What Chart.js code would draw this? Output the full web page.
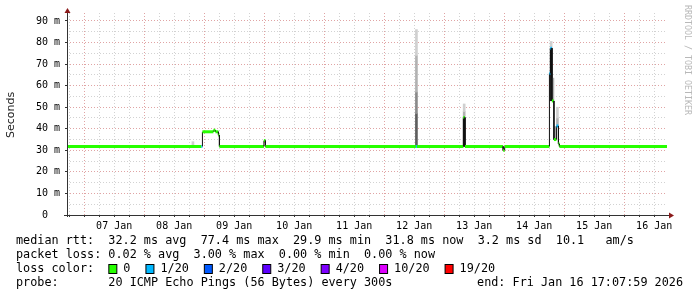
<!DOCTYPE html>
<html><head><meta charset="utf-8">
<script src="https://cdn.jsdelivr.net/npm/chart.js@4/dist/chart.umd.min.js"></script>
<style>html,body{margin:0;padding:0;background:#fff;overflow:hidden}canvas{display:block}</style>
</head><body>
<canvas id="c" width="697" height="297"></canvas>
<script>
// ---------- DATA (x = hours since 06 Jan 00:00) ----------
const startHour = 17.13;   // Tue Jan 06 17:08
const endHour = 257.13;    // Fri Jan 16 17:07:59
const yMax = 93.7;         // ms
const yTickValues = [0,5,10,15,20,25,30,35,40,45,50,55,60,65,70,75,80,85,90];
const yTickLabels = ['0  ','10 m','20 m','30 m','40 m','50 m','60 m','70 m','80 m','90 m'];
const xGridHours = [18,24,30,36,42,48,54,60,66,72,78,84,90,96,102,108,114,120,126,132,138,144,150,156,162,168,174,180,186,192,198,204,210,216,222,228,234,240,246,252];
const dayLabelHours = [36,60,84,108,132,156,180,204,228,252];
const dayLabels = ['07 Jan','08 Jan','09 Jan','10 Jan','11 Jan','12 Jan','13 Jan','14 Jan','15 Jan','16 Jan'];

// median rtt as runs: run i spans medBreaks[i]..medBreaks[i+1]
const medBreaks = [17.13,70.9,71.3,75.7,76.5,77.7,78.1,95.9,96.5,156.7,157.1,175.7,176.3,191.6,192.2,210.1,210.5,211.1,211.9,212.9,213.7,214.1,257.13];
const medValues = [31.8,31.8,38.6,39.3,38.6,37.0,31.8,34.5,31.8,31.8,31.8,45.2,31.8,30.0,31.8,65.7,77.4,52.9,35.0,41.3,33.0,31.8];
const medLoss   = [0,1,0,0,0,0,0,0,0,1,0,0,0,0,0,1,1,0,0,1,0,0];

// smoke (ping spread) as [hour, low ms, high ms], by density band
const smokeOuter  = [[67.5,32.0,34.0],[156.9,74,86],[176.0,48,51.5],[210.8,77.4,80.5],[213.3,45,50]];
const smokeMiddle = [[156.9,57,74],[176.0,45.2,48],[211.5,52.9,63.5],[212.4,35,41],[213.3,41.3,45]];
const smokeInner  = [[156.9,47,57]];
const smokeCore   = [[156.9,31.8,47]];
const smokeDense  = [[176.0,31.8,45.2],[210.8,53,77.4]];

// legend texts
const rttStats = ['32.2 ms avg','77.4 ms max','29.9 ms min','31.8 ms now','3.2 ms sd','10.1   am/s'];
const lossStats = ['0.02 % avg','3.00 % max','0.00 % min','0.00 % now'];
const lossLabels = ['0','1/20','2/20','3/20','4/20','10/20','19/20'];
const lossColors = ['#26ff00','#00b8ff','#0059ff','#5e00ff','#7e00ff','#dd00ff','#ff0000'];
const probeText = '20 ICMP Echo Pings (56 Bytes) every 300s';
const endText = 'end: Fri Jan 16 17:07:59 2026';
const lossIndexOfCount = {0:0,1:1,2:2,3:3,4:4,10:5,19:6};

// ---------- BUILD ----------
const medPoints = [];
medValues.forEach((v,i)=>{ medPoints.push({x:medBreaks[i],y:v}); medPoints.push({x:medBreaks[i+1],y:v}); });
const toBars = arr => arr.map(([h,lo,hi])=>({x:h,y:[lo,hi]}));

const MONO = '"DejaVu Sans Mono", monospace';
const majorGrid = '#e0a4a4', minorGrid = '#d2d2d2';

const extras = {
  id:'extras',
  afterDatasetsDraw(chart){
    const c = chart.ctx, a = chart.chartArea;
    c.save();
    c.strokeStyle = '#333'; c.lineWidth = 1;
    c.beginPath();
    c.moveTo(a.left+0.5, a.bottom+2); c.lineTo(a.left+0.5, a.top-1);
    c.moveTo(a.left-3, a.bottom+0.5); c.lineTo(a.right+2, a.bottom+0.5);
    c.stroke();
    c.fillStyle = '#8b1a1a';
    c.beginPath();
    c.moveTo(a.left+0.5, a.top-5); c.lineTo(a.left-2.5, a.top); c.lineTo(a.left+3.5, a.top); c.closePath(); c.fill();
    c.beginPath();
    c.moveTo(a.right+7, a.bottom+0.5); c.lineTo(a.right+2, a.bottom-2.5); c.lineTo(a.right+2, a.bottom+3.5); c.closePath(); c.fill();
    c.restore();
  },
  afterDraw(chart){
    const c = chart.ctx;
    c.save();
    // y title
    c.fillStyle = '#222';
    c.font = '11px "DejaVu Sans", sans-serif';
    c.textAlign = 'center'; c.textBaseline = 'middle';
    c.translate(11, 115); c.rotate(-Math.PI/2); c.fillText('Seconds', 0, 0);
    c.setTransform(1,0,0,1,0,0);
    // credit
    c.fillStyle = '#b8b8b8';
    c.font = '8.3px ' + MONO;
    c.translate(687.5, 60); c.rotate(Math.PI/2); c.fillText('RRDTOOL / TOBI OETIKER', 0, 0);
    c.setTransform(1,0,0,1,0,0);
    // legend
    c.fillStyle = '#000';
    c.font = '11.8px ' + MONO;
    c.textAlign = 'left'; c.textBaseline = 'middle';
    const x0 = 16;
    c.fillText('median rtt:  ' + rttStats.join('  '), x0, 241);
    c.fillText('packet loss: ' + lossStats.join('  '), x0, 255);
    c.fillText('loss color:', x0, 269);
    c.fillText('probe:', x0, 283);
    const cw = c.measureText('0').width;
    c.fillText(probeText, x0 + 13*cw, 283);
    c.textAlign = 'right';
    c.fillText(endText, 683, 283);
    c.textAlign = 'left';
    let bx = x0 + 13*cw;
    lossLabels.forEach((lab,i)=>{
      c.fillStyle = lossColors[i];
      c.fillRect(bx+0.5, 264.5, 8, 9);
      c.strokeStyle = '#000'; c.lineWidth = 1;
      c.strokeRect(bx+0.5, 264.5, 8, 9);
      c.fillStyle = '#000';
      const tx = bx + 15;
      c.fillText(lab, tx, 269);
      bx = tx + c.measureText(lab).width + 15;
    });
    c.restore();
  }
};

const smokeDs = (data, color) => ({type:'bar', data: toBars(data), backgroundColor: color, borderWidth:0, barThickness:2, grouped:false, order:2});

new Chart(document.getElementById('c'), {
  type:'line',
  data:{ datasets:[
    {type:'line', data: medPoints, borderColor:'#26ff00', pointRadius:0, borderWidth:3, borderCapStyle:'butt', tension:0, order:1,
     segment:{
       borderColor: ctx => (ctx.p0DataIndex % 2 === 0) ? lossColors[lossIndexOfCount[medLoss[ctx.p0DataIndex/2]]] : '#111',
       borderWidth: ctx => (ctx.p0DataIndex % 2 === 0) ? 3 : 1
     }},
    smokeDs(smokeOuter, '#d0d0d0'),
    smokeDs(smokeMiddle, '#b2b2b2'),
    smokeDs(smokeInner, '#8a8a8a'),
    smokeDs(smokeCore, '#5e5e5e'),
    smokeDs(smokeDense, '#1e1e1e')
  ]},
  options:{
    responsive:false, animation:false, devicePixelRatio:1,
    layout:{padding:{left:0,top:13,right:30,bottom:0}},
    plugins:{legend:{display:false}, tooltip:{enabled:false}},
    scales:{
      x:{ type:'linear', min:startHour, max:endHour, offset:false,
        afterBuildTicks: s => { s.ticks = xGridHours.map(v=>({value:v})); },
        afterFit: s => { s.height = 82; },
        grid:{ offset:false, drawTicks:true, tickLength:2, tickColor:'#333',
          color: c => (c.tick && c.tick.value % 24 === 0) ? majorGrid : minorGrid, lineWidth:1 },
        border:{ display:false, dash:[1,2] },
        ticks:{ autoSkip:false, maxRotation:0, minRotation:0, padding:3, color:'#000',
          font:{family:MONO, size:10},
          callback: v => { const i = dayLabelHours.indexOf(v); return i >= 0 ? dayLabels[i] : ''; } }
      },
      y:{ type:'linear', min:0, max:yMax,
        afterBuildTicks: s => { s.ticks = yTickValues.map(v=>({value:v})); },
        afterFit: s => { s.width = 67; },
        grid:{ drawTicks:true, tickLength:2, tickColor: c => (c.tick && c.tick.value % 10 === 0) ? '#333' : 'rgba(0,0,0,0)',
          color: c => (c.tick && c.tick.value === 0) ? 'rgba(0,0,0,0)' : ((c.tick && c.tick.value % 10 === 0) ? majorGrid : minorGrid), lineWidth:1 },
        border:{ display:false, dash:[1,2] },
        ticks:{ autoSkip:false, padding:5, color:'#000', font:{family:MONO, size:10},
          callback: v => (v % 10 === 0) ? yTickLabels[v/10] : '' }
      }
    }
  },
  plugins:[extras]
});
</script>
</body></html>
